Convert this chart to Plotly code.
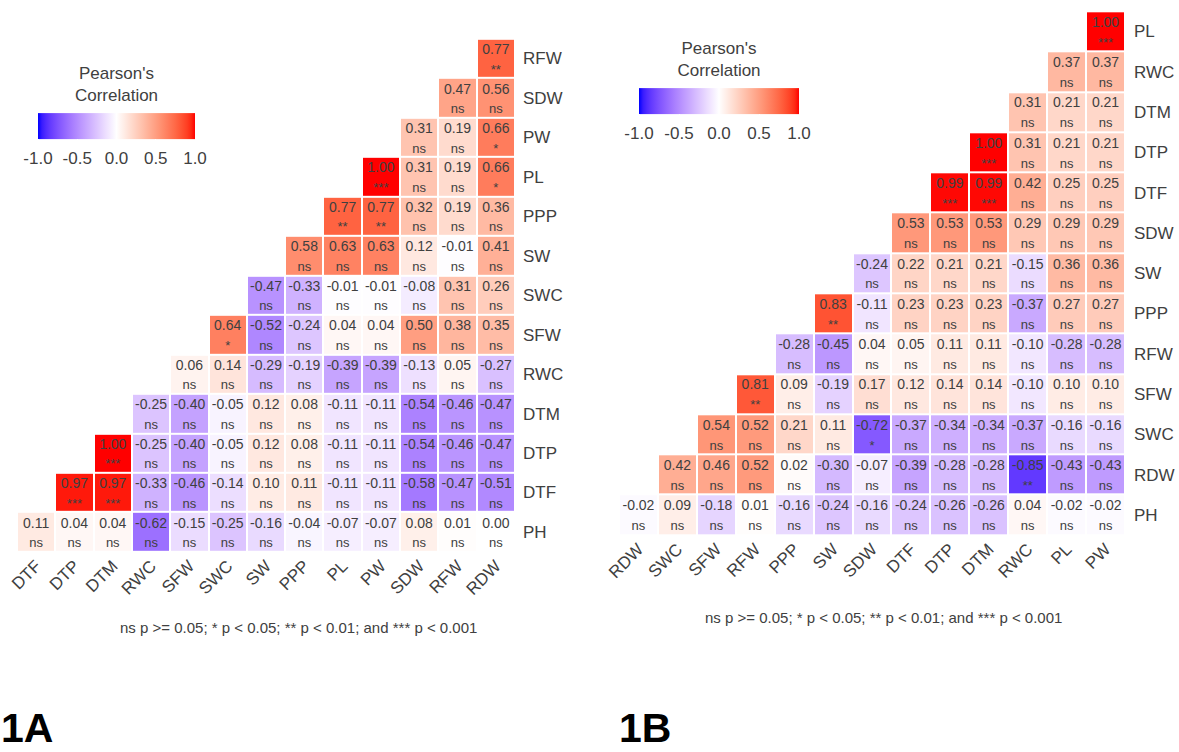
import numpy as np
import plotly.graph_objects as go

W, H = 1179, 752

# ---------------- Panel 1A ----------------
A_cols = ["DTF", "DTP", "DTM", "RWC", "SFW", "SWC", "SW", "PPP", "PL", "PW", "SDW", "RFW", "RDW"]
A_rows = ["PH", "DTF", "DTP", "DTM", "RWC", "SFW", "SWC", "SW", "PPP", "PL", "PW", "SDW", "RFW"]  # bottom -> top
A_r = [
    [0.11, 0.04, 0.04, -0.62, -0.15, -0.25, -0.16, -0.04, -0.07, -0.07, 0.08, 0.01, 0.00],  # PH
    [0.97, 0.97, -0.33, -0.46, -0.14, 0.10, 0.11, -0.11, -0.11, -0.58, -0.47, -0.51],  # DTF
    [1.00, -0.25, -0.40, -0.05, 0.12, 0.08, -0.11, -0.11, -0.54, -0.46, -0.47],  # DTP
    [-0.25, -0.40, -0.05, 0.12, 0.08, -0.11, -0.11, -0.54, -0.46, -0.47],  # DTM
    [0.06, 0.14, -0.29, -0.19, -0.39, -0.39, -0.13, 0.05, -0.27],  # RWC
    [0.64, -0.52, -0.24, 0.04, 0.04, 0.50, 0.38, 0.35],  # SFW
    [-0.47, -0.33, -0.01, -0.01, -0.08, 0.31, 0.26],  # SWC
    [0.58, 0.63, 0.63, 0.12, -0.01, 0.41],  # SW
    [0.77, 0.77, 0.32, 0.19, 0.36],  # PPP
    [1.00, 0.31, 0.19, 0.66],  # PL
    [0.31, 0.19, 0.66],  # PW
    [0.47, 0.56],  # SDW
    [0.77],  # RFW
]
A_sig = [
    ["ns", "ns", "ns", "ns", "ns", "ns", "ns", "ns", "ns", "ns", "ns", "ns", "ns"],
    ["***", "***", "ns", "ns", "ns", "ns", "ns", "ns", "ns", "ns", "ns", "ns"],
    ["***", "ns", "ns", "ns", "ns", "ns", "ns", "ns", "ns", "ns", "ns"],
    ["ns", "ns", "ns", "ns", "ns", "ns", "ns", "ns", "ns", "ns"],
    ["ns", "ns", "ns", "ns", "ns", "ns", "ns", "ns", "ns"],
    ["*", "ns", "ns", "ns", "ns", "ns", "ns", "ns"],
    ["ns", "ns", "ns", "ns", "ns", "ns", "ns"],
    ["ns", "ns", "ns", "ns", "ns", "ns"],
    ["**", "**", "ns", "ns", "ns"],
    ["***", "ns", "ns", "*"],
    ["ns", "ns", "*"],
    ["ns", "ns"],
    ["**"],
]

# ---------------- Panel 1B ----------------
B_cols = ["RDW", "SWC", "SFW", "RFW", "PPP", "SW", "SDW", "DTF", "DTP", "DTM", "RWC", "PL", "PW"]
B_rows = ["PH", "RDW", "SWC", "SFW", "RFW", "PPP", "SW", "SDW", "DTF", "DTP", "DTM", "RWC", "PL"]  # bottom -> top
B_r = [
    [-0.02, 0.09, -0.18, 0.01, -0.16, -0.24, -0.16, -0.24, -0.26, -0.26, 0.04, -0.02, -0.02],  # PH
    [0.42, 0.46, 0.52, 0.02, -0.30, -0.07, -0.39, -0.28, -0.28, -0.85, -0.43, -0.43],  # RDW
    [0.54, 0.52, 0.21, 0.11, -0.72, -0.37, -0.34, -0.34, -0.37, -0.16, -0.16],  # SWC
    [0.81, 0.09, -0.19, 0.17, 0.12, 0.14, 0.14, -0.10, 0.10, 0.10],  # SFW
    [-0.28, -0.45, 0.04, 0.05, 0.11, 0.11, -0.10, -0.28, -0.28],  # RFW
    [0.83, -0.11, 0.23, 0.23, 0.23, -0.37, 0.27, 0.27],  # PPP
    [-0.24, 0.22, 0.21, 0.21, -0.15, 0.36, 0.36],  # SW
    [0.53, 0.53, 0.53, 0.29, 0.29, 0.29],  # SDW
    [0.99, 0.99, 0.42, 0.25, 0.25],  # DTF
    [1.00, 0.31, 0.21, 0.21],  # DTP
    [0.31, 0.21, 0.21],  # DTM
    [0.37, 0.37],  # RWC
    [1.00],  # PL
]
B_sig = [
    ["ns", "ns", "ns", "ns", "ns", "ns", "ns", "ns", "ns", "ns", "ns", "ns", "ns"],
    ["ns", "ns", "ns", "ns", "ns", "ns", "ns", "ns", "ns", "**", "ns", "ns"],
    ["ns", "ns", "ns", "ns", "*", "ns", "ns", "ns", "ns", "ns", "ns"],
    ["**", "ns", "ns", "ns", "ns", "ns", "ns", "ns", "ns", "ns"],
    ["ns", "ns", "ns", "ns", "ns", "ns", "ns", "ns", "ns"],
    ["**", "ns", "ns", "ns", "ns", "ns", "ns", "ns"],
    ["ns", "ns", "ns", "ns", "ns", "ns", "ns"],
    ["ns", "ns", "ns", "ns", "ns", "ns"],
    ["***", "***", "ns", "ns", "ns"],
    ["***", "ns", "ns", "ns"],
    ["ns", "ns", "ns"],
    ["ns", "ns"],
    ["***"],
]

CAPTION = "ns p >= 0.05; * p < 0.05; ** p < 0.01; and *** p < 0.001"
LEGEND_TITLE = "Pearson's<br>Correlation"
CB_TICKS = [-1.0, -0.5, 0.0, 0.5, 1.0]


# ---------- blue-white-red colour scale interpolated in CIELAB ----------
def _srgb_to_lab(rgb):
    c = np.array(rgb, float) / 255.0
    c = np.where(c <= 0.04045, c / 12.92, ((c + 0.055) / 1.055) ** 2.4)
    M = np.array([[0.4124, 0.3576, 0.1805], [0.2126, 0.7152, 0.0722], [0.0193, 0.1192, 0.9505]])
    xyz = M @ c / np.array([0.95047, 1.0, 1.08883])
    f = np.where(xyz > 0.008856, np.cbrt(xyz), 7.787 * xyz + 16 / 116)
    return np.array([116 * f[1] - 16, 500 * (f[0] - f[1]), 200 * (f[1] - f[2])])


def _lab_to_srgb(lab):
    L, a, b = lab
    fy = (L + 16) / 116
    fx = fy + a / 500
    fz = fy - b / 200
    f = np.array([fx, fy, fz])
    xyz = np.where(f ** 3 > 0.008856, f ** 3, (f - 16 / 116) / 7.787) * np.array([0.95047, 1.0, 1.08883])
    Mi = np.array([[3.2406, -1.5372, -0.4986], [-0.9689, 1.8758, 0.0415], [0.0557, -0.2040, 1.0570]])
    c = Mi @ xyz
    c = np.clip(c, 0, 1)
    c = np.where(c <= 0.0031308, 12.92 * c, 1.055 * c ** (1 / 2.4) - 0.055)
    return tuple(int(round(v * 255)) for v in np.clip(c, 0, 1))


LAB_LOW = _srgb_to_lab((0, 0, 255))
LAB_MID = _srgb_to_lab((255, 255, 255))
LAB_HIGH = _srgb_to_lab((255, 0, 0))
colorscale = []
for t in np.linspace(0, 1, 41):
    v = 2 * t - 1
    lab = LAB_MID + (LAB_LOW - LAB_MID) * (-v) if v < 0 else LAB_MID + (LAB_HIGH - LAB_MID) * v
    r, g, b = _lab_to_srgb(lab)
    colorscale.append([float(t), f"rgb({r},{g},{b})"])

FONT = "Arial, 'Liberation Sans', Helvetica, sans-serif"
TXT = "#404040"

fig = go.Figure()


def add_panel(cols, rows, vals, sigs, xa, ya, cb_x, cb_y, cb_len):
    n = len(cols)
    z = [[None] * n for _ in range(n)]
    vx, vy, vt, sx, sy, st = [], [], [], [], [], []
    for k, row in enumerate(vals):
        for j, v in enumerate(row):
            c = k + j
            z[k][c] = v
            vx.append(c); vy.append(k + 0.2); vt.append(f"{v:.2f}")
            sx.append(c); sy.append(k - 0.3); st.append(sigs[k][j])
    fig.add_trace(go.Heatmap(
        z=z, x=list(range(n)), y=list(range(n)), xaxis=xa, yaxis=ya,
        colorscale=colorscale, zmin=-1, zmax=1, xgap=2, ygap=2, hoverongaps=False,
        colorbar=dict(
            orientation="h", x=cb_x, xanchor="center", y=cb_y, yanchor="top",
            len=cb_len, lenmode="pixels", thickness=26, thicknessmode="pixels",
            outlinewidth=0, xpad=0, ypad=0,
            tickvals=CB_TICKS, ticktext=[f"{t:.1f}" for t in CB_TICKS],
            ticks="outside", ticklen=5, tickcolor="white",
            tickfont=dict(size=17, color=TXT, family=FONT),
            title=dict(text=LEGEND_TITLE, side="top", font=dict(size=17, color=TXT, family=FONT)),
        ),
    ))
    fig.add_trace(go.Scatter(x=vx, y=vy, text=vt, mode="text", xaxis=xa, yaxis=ya,
                             textfont=dict(size=14, color=TXT, family=FONT), hoverinfo="skip",
                             showlegend=False))
    fig.add_trace(go.Scatter(x=sx, y=sy, text=st, mode="text", xaxis=xa, yaxis=ya,
                             textfont=dict(size=13, color=TXT, family=FONT), hoverinfo="skip",
                             showlegend=False))
    return n


nA = add_panel(A_cols, A_rows, A_r, A_sig, "x", "y", 116.5 / W, 1 - 72 / H, 157)
nB = add_panel(B_cols, B_rows, B_r, B_sig, "x2", "y2", 719 / W, 1 - 47 / H, 160)

axis_common = dict(showgrid=False, zeroline=False, showline=False, ticks="",
                   tickfont=dict(size=17, color=TXT, family=FONT), automargin=False)

fig.update_layout(
    width=W, height=H, margin=dict(l=0, r=0, t=0, b=0, autoexpand=False),
    paper_bgcolor="white", plot_bgcolor="white", showlegend=False,
    font=dict(family=FONT, color=TXT),
    xaxis=dict(domain=[17 / W, 515 / W], range=[-0.5, nA - 0.5], tickvals=list(range(nA)),
               ticktext=A_cols, tickangle=-45, anchor="y", **axis_common),
    yaxis=dict(domain=[1 - 551.7 / H, 1 - 38.8 / H], range=[-0.5, nA - 0.5], tickvals=list(range(nA)),
               ticktext=A_rows, side="right", anchor="x", ticklabelstandoff=7, **axis_common),
    xaxis2=dict(domain=[619 / W, 1125 / W], range=[-0.5, nB - 0.5], tickvals=list(range(nB)),
                ticktext=B_cols, tickangle=-45, anchor="y2", **axis_common),
    yaxis2=dict(domain=[1 - 535 / H, 1 - 11.3 / H], range=[-0.5, nB - 0.5], tickvals=list(range(nB)),
                ticktext=B_rows, side="right", anchor="x2", ticklabelstandoff=8, **axis_common),
    annotations=[
        dict(text=CAPTION, x=298 / W, y=1 - 627 / H, xref="paper", yref="paper", showarrow=False,
             xanchor="center", yanchor="middle", font=dict(size=15, color=TXT, family=FONT)),
        dict(text=CAPTION, x=883 / W, y=1 - 617 / H, xref="paper", yref="paper", showarrow=False,
             xanchor="center", yanchor="middle", font=dict(size=15, color=TXT, family=FONT)),
        dict(text="<b>1A</b>", x=0, y=0, xref="paper", yref="paper", showarrow=False,
             xanchor="left", yanchor="bottom", borderpad=0, font=dict(size=41, color="black", family=FONT)),
        dict(text="<b>1B</b>", x=618 / W, y=0, xref="paper", yref="paper", showarrow=False,
             xanchor="left", yanchor="bottom", borderpad=0, font=dict(size=41, color="black", family=FONT)),
    ],
)

fig.write_html("out.html", config={"displayModeBar": False},
               post_script="document.body.style.margin='0';document.body.style.overflow='hidden';")
